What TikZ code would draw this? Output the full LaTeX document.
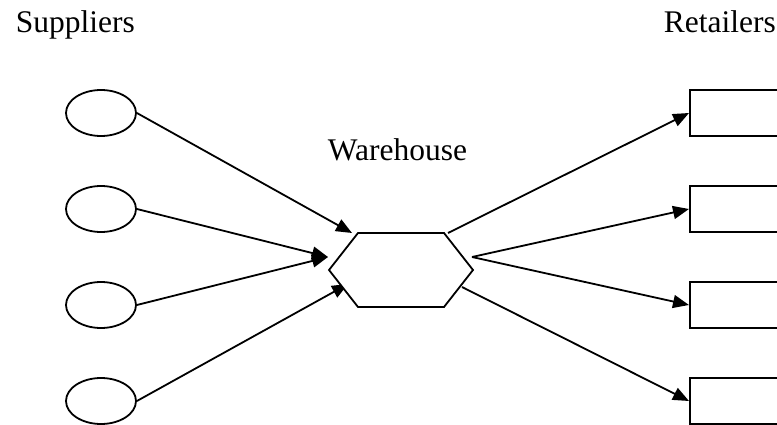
\documentclass[tikz,border=0pt]{standalone}
\usepackage{fontspec}
\setmainfont{Liberation Serif}
\usetikzlibrary{arrows.meta,shapes.geometric}
\begin{document}
\begin{tikzpicture}[x=1pt, y=-1pt, line width=1.8pt,
  flow/.style={-{Triangle[length=16pt,width=13pt]}},
  label/.style={anchor=base west, inner sep=0, font=\fontsize{31.5}{36}\selectfont}]
  \useasboundingbox (0,0) rectangle (777,425);

  % Titles
  \node[label] (tsup) at (15,33) {Suppliers};
  \node[label] (tret) at (663,33) {Retailers};
  \node[label] (twh) at (327,161) {Warehouse};

  % Suppliers
  \begin{scope}[every node/.style={draw, ellipse, minimum width=70pt, minimum height=46pt, inner sep=0}]
    \node (s1) at (101,113) {};
    \node (s2) at (101,209) {};
    \node (s3) at (101,305) {};
    \node (s4) at (101,401) {};
  \end{scope}

  % Retailers
  \begin{scope}[every node/.style={draw, rectangle, anchor=west, minimum width=120pt, minimum height=46pt, inner sep=0}]
    \node (r1) at (689,113) {};
    \node (r2) at (689,209) {};
    \node (r3) at (689,305) {};
    \node (r4) at (689,401) {};
  \end{scope}

  % Warehouse
  \coordinate (wh) at (401,270);
  \coordinate (in1) at (352,233);
  \coordinate (in2) at (328,257);
  \coordinate (in4) at (348,284);
  \coordinate (out1) at (448,233);
  \coordinate (out2) at (472,257);
  \coordinate (out4) at (462,287);

  \draw[flow] (s1.east) -- (in1);
  \draw[flow] (s2.east) -- (in2);
  \draw[flow] (s3.east) -- (in2);
  \draw[flow] (s4.east) -- (in4);

  \draw[flow] (out1) -- (r1.west);
  \draw[flow] (out2) -- (r2.west);
  \draw[flow] (out2) -- (r3.west);
  \draw[flow] (out4) -- (r4.west);

  \draw[fill=white] ([shift={(-72,0)}]wh) -- ([shift={(-43,-37)}]wh) -- ([shift={(43,-37)}]wh)
    -- ([shift={(72,0)}]wh) -- ([shift={(43,37)}]wh) -- ([shift={(-43,37)}]wh) -- cycle;
\end{tikzpicture}
\end{document}
